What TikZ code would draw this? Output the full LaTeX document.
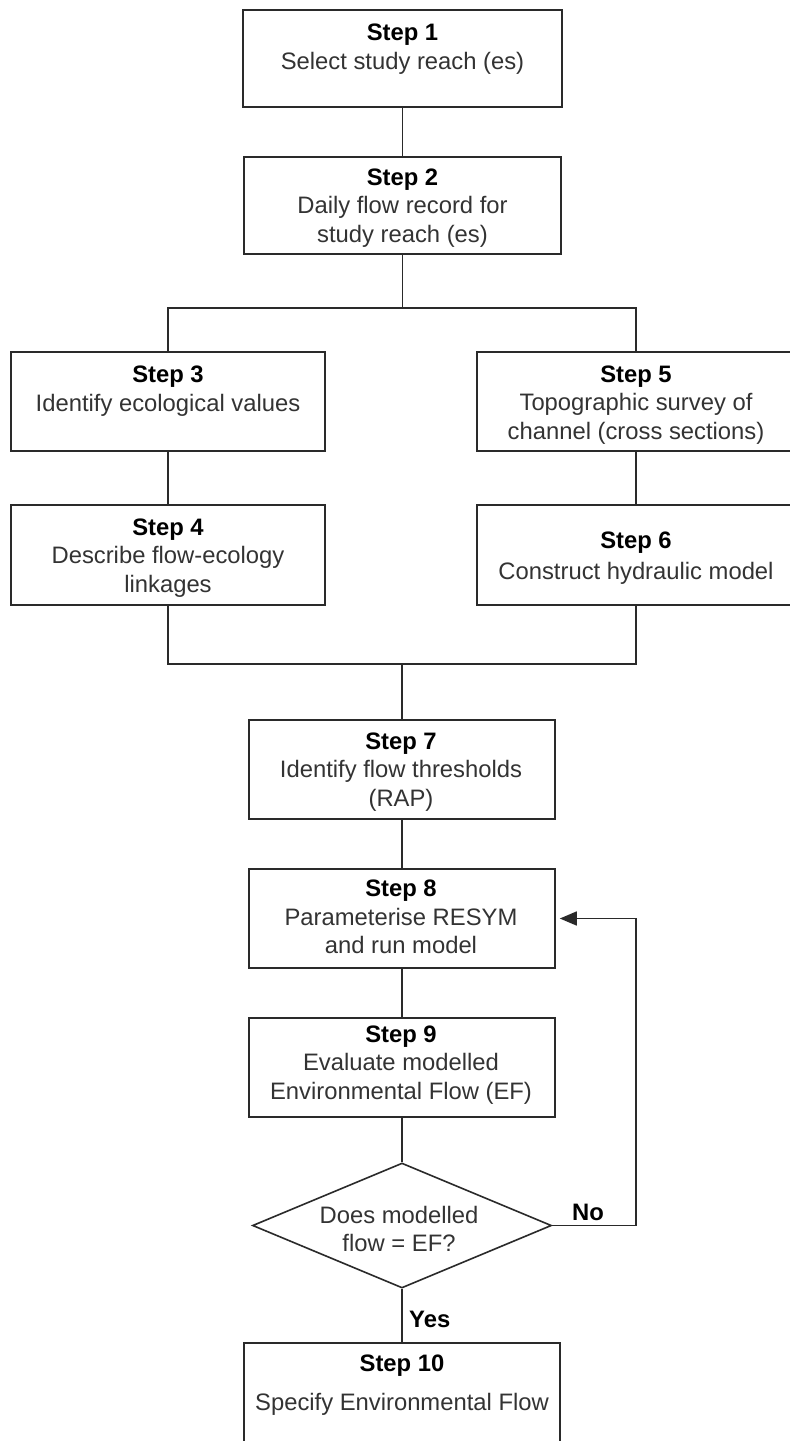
\documentclass[tikz,border=0pt]{standalone}
\usepackage{fontspec}
\setmainfont{Liberation Sans}
\usetikzlibrary{shapes.geometric,arrows.meta}
\definecolor{ink}{HTML}{333333}
\definecolor{edgec}{HTML}{2A2A2A}
\begin{document}
\begin{tikzpicture}[x=1pt,y=-1pt,
  box/.style={draw=edgec, line width=1.6pt, inner sep=0pt},
  txt/.style={align=center, text=ink, font=\fontsize{23.8}{28.5}\selectfont, inner sep=0pt},
  lbl/.style={text=black, font=\fontsize{23.8}{28.5}\selectfont\bfseries, inner sep=0pt},
  link/.style={draw=edgec, line width=1.6pt},
  decision/.style={draw=edgec, line width=1.6pt, diamond, inner sep=0pt}
]
\newcommand{\stp}[1]{\textcolor{black}{\textbf{Step #1}}}
\useasboundingbox[fill=white] (0,0) rectangle (790,1441);

% boxes
\node[box, minimum width=319pt, minimum height=97pt]  (b1)  at (402.5,58.5) {};
\node[box, minimum width=317pt, minimum height=97pt]  (b2)  at (402.5,205.5) {};
\node[box, minimum width=314pt, minimum height=99pt]  (b3)  at (168,401.5) {};
\node[box, minimum width=318pt, minimum height=99pt]  (b5)  at (636,401.5) {};
\node[box, minimum width=314pt, minimum height=100pt] (b4)  at (168,555) {};
\node[box, minimum width=318pt, minimum height=100pt] (b6)  at (636,555) {};
\node[box, minimum width=306pt, minimum height=99pt]  (b7)  at (402,769.5) {};
\node[box, minimum width=306pt, minimum height=99pt]  (b8)  at (402,918.5) {};
\node[box, minimum width=306pt, minimum height=99pt]  (b9)  at (402,1067.5) {};
\node[decision, minimum width=299pt, minimum height=125pt] (d) at (402,1225.5) {};
\node[box, minimum width=316pt, minimum height=100pt] (b10) at (402,1393) {};

% texts
\node[txt] (t1) at (402.5,49)  {\stp{1}\\Select study reach (es)};
\node[txt] (t2) at (402.5,208) {\stp{2}\\Daily flow record for\\study reach (es)};
\node[txt] (t3) at (168,391)   {\stp{3}\\Identify ecological values};
\node[txt] (t5) at (636,405)   {\stp{5}\\Topographic survey of\\channel (cross sections)};
\node[txt] (t4) at (168,558)   {\stp{4}\\Describe flow-ecology\\linkages};
\node[txt] (t6) at (636,558)   {\stp{6}\\[2pt]Construct hydraulic model};
\node[txt] (t7) at (401,772)   {\stp{7}\\Identify flow thresholds\\(RAP)};
\node[txt] (t8) at (401,917)   {\stp{8}\\Parameterise RESYM\\and run model};
\node[txt] (t9) at (401,1065)  {\stp{9}\\Evaluate modelled\\Environmental Flow (EF)};
\node[txt] (td) at (399,1229)  {Does modelled\\flow = EF?};
\node[txt] (t10) at (402,1385) {\stp{10}\\[11pt]Specify Environmental Flow};
\node[lbl] (no)  at (588,1212) {No};
\node[lbl, anchor=west] (yes) at (409,1319) {Yes};

% connectors
\coordinate (split) at (402.5,308);
\coordinate (join) at (402,664);
\coordinate (loop) at (636,1225.5);
\draw[link] (b1.south) -- (b2.north);
\draw[link] (b2.south) -- (split);
\draw[link] (b3.north) |- (split) -| (b5.north);
\draw[link] (b3.south) -- (b4.north);
\draw[link] (b5.south) -- (b6.north);
\draw[link] (b4.south) |- (join) -| (b6.south);
\draw[link] (join) -- (b7.north);
\draw[link] (b7.south) -- (b8.north);
\draw[link] (b8.south) -- (b9.north);
\draw[link] (b9.south) -- (d.north);
\draw[link] (d.south) -- (b10.north);
\draw[link, -{Triangle[length=17pt,width=14pt]}, shorten >=4pt] (d.east) -- (loop) |- (b8.east);
\end{tikzpicture}
\end{document}
